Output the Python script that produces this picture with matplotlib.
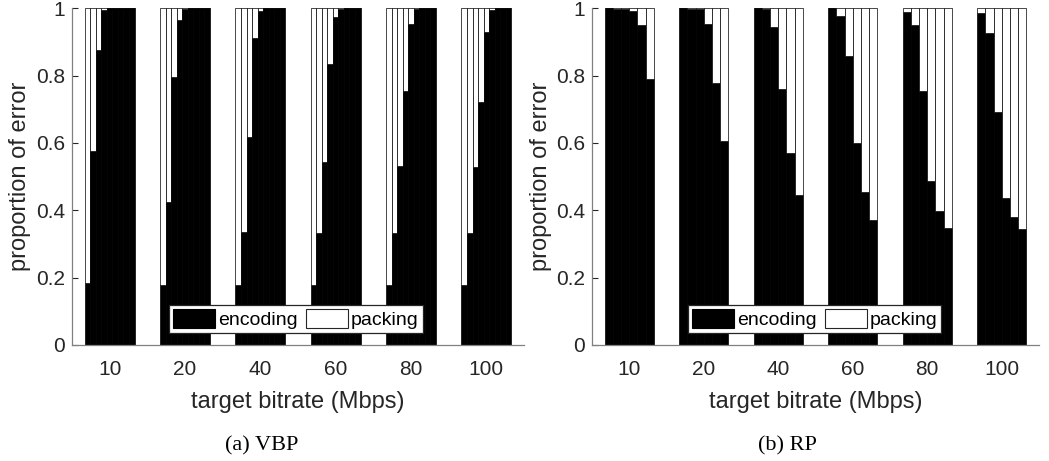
import matplotlib
matplotlib.use("Agg")
import matplotlib.pyplot as plt
from matplotlib.patches import Patch
import numpy as np

categories = ["10", "20", "40", "60", "80", "100"]

# proportion of error due to encoding (packing = 1 - encoding)
vbp_encoding = [
    [0.185, 0.577, 0.876, 0.995, 1.0, 1.0, 1.0, 1.0, 1.0],
    [0.178, 0.426, 0.797, 0.965, 0.998, 1.0, 1.0, 1.0, 1.0],
    [0.178, 0.337, 0.619, 0.913, 0.993, 1.0, 1.0, 1.0, 1.0],
    [0.178, 0.332, 0.543, 0.834, 0.973, 0.998, 1.0, 1.0, 1.0],
    [0.178, 0.332, 0.533, 0.755, 0.952, 0.997, 1.0, 1.0, 1.0],
    [0.178, 0.332, 0.530, 0.723, 0.929, 0.995, 1.0, 1.0, 1.0],
]
rp_encoding = [
    [1.0, 0.999, 0.998, 0.992, 0.950, 0.789],
    [1.0, 0.999, 0.997, 0.952, 0.777, 0.607],
    [1.0, 0.997, 0.945, 0.760, 0.569, 0.445],
    [1.0, 0.977, 0.859, 0.601, 0.455, 0.371],
    [0.990, 0.950, 0.754, 0.487, 0.398, 0.347],
    [0.985, 0.928, 0.693, 0.436, 0.381, 0.344],
]
yticks = [0, 0.2, 0.4, 0.6, 0.8, 1]
ytick_labels = ["0", "0.2", "0.4", "0.6", "0.8", "1"]
xlabel = "target bitrate (Mbps)"
ylabel = "proportion of error"
legend_labels = ["encoding", "packing"]
captions = ["(a) VBP", "(b) RP"]

SANS = "Liberation Sans"
SERIF = "Liberation Serif"
AX_COLOR = "#262626"
EDGE = "#000000"

W, H = 1049, 461
fig = plt.figure(figsize=(W / 100, H / 100), dpi=100)

def draw(rect, data, caption, cap_x):
    ax = fig.add_axes(rect)
    data = np.array(data)
    ng, nb = data.shape
    gw = 0.66
    bw = gw / nb
    centers = np.arange(1, ng + 1)
    for i in range(nb):
        x = centers - gw / 2 + (i + 0.5) * bw
        enc = data[:, i]
        pack = 1 - enc
        ax.bar(x, enc, width=bw, color="black", edgecolor=EDGE, linewidth=0.5, zorder=2)
        ax.bar(x, pack, bottom=enc, width=bw, color="white", edgecolor=EDGE, linewidth=0.5, zorder=2)
    ax.set_xlim(0.5, ng + 0.5)
    ax.set_ylim(0, 1)
    ax.set_xticks(centers)
    ax.set_xticklabels(categories, fontsize=15, family=SANS, color=AX_COLOR)
    ax.set_yticks(yticks)
    ax.set_yticklabels(ytick_labels, fontsize=15, family=SANS, color=AX_COLOR)
    ax.tick_params(axis="x", length=0, pad=11)
    ax.tick_params(axis="y", direction="in", length=4, width=0.8, color=AX_COLOR, pad=5)
    for s in ["top", "right"]:
        ax.spines[s].set_visible(False)
    for s in ["left", "bottom"]:
        ax.spines[s].set_color("#808080")
        ax.spines[s].set_linewidth(0.9)
    ax.set_axisbelow(True)
    ax.set_xlabel(xlabel, fontsize=17, family=SANS, color=AX_COLOR)
    ax.xaxis.set_label_coords(0.5, -0.169)
    ax.xaxis.label.set_va("center")
    ax.set_ylabel(ylabel, fontsize=17, family=SANS, color=AX_COLOR)
    ax.yaxis.set_label_coords(-0.115, 0.5)
    ax.yaxis.label.set_va("center")
    handles = [Patch(facecolor="black", edgecolor="black", linewidth=0.8),
               Patch(facecolor="white", edgecolor="#262626", linewidth=0.8)]
    leg = ax.legend(handles, legend_labels, ncol=2, loc="lower left",
                    bbox_to_anchor=(0.215, 0.036), borderaxespad=0,
                    prop={"family": SANS, "size": 14},
                    handlelength=2.15, handleheight=1.1, handletextpad=0.15,
                    columnspacing=0.45, borderpad=0.2, fancybox=False,
                    framealpha=1, edgecolor="#262626")
    leg.get_frame().set_linewidth(0.9)
    leg.set_zorder(5)
    fig.text(cap_x, 1 - 446 / H, caption, ha="center", va="center",
             family=SERIF, fontsize=16, color="black")
    return ax

bottom = (H - 345) / H
height = 336.7 / H
draw([72 / W, bottom, 452 / W, height], vbp_encoding, captions[0], 262 / W)
draw([592 / W, bottom, 447 / W, height], rp_encoding, captions[1], 787 / W)

fig.savefig("out.png", dpi=100)
